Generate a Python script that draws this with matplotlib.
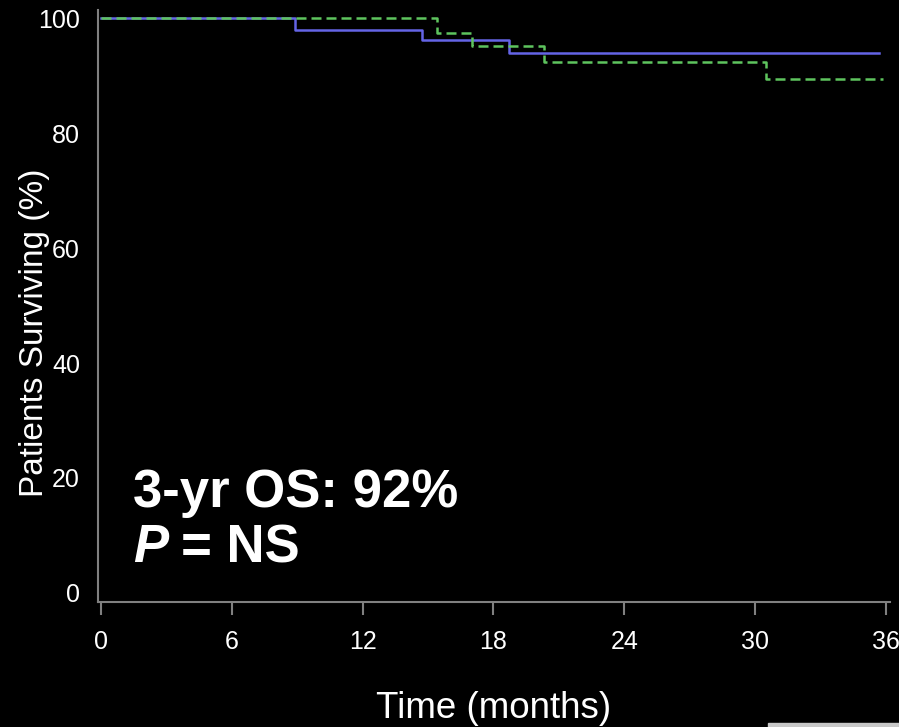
import matplotlib.pyplot as plt
from matplotlib.patches import Rectangle

plt.rcParams['font.family'] = ['Liberation Sans', 'DejaVu Sans']

# Kaplan-Meier step points (months, % surviving)
arm_a_time = [0, 8.9, 14.7, 18.7, 35.7]
arm_a_surv = [100, 97.9, 96.2, 94.0, 94.0]
arm_b_time = [0, 15.4, 17.0, 20.3, 30.5, 35.9]
arm_b_surv = [100, 97.5, 95.1, 92.3, 89.5, 89.5]

x_ticks = [0, 6, 12, 18, 24, 30, 36]
y_ticks = [0, 20, 40, 60, 80, 100]

fig = plt.figure(figsize=(8.99, 7.27), dpi=100, facecolor='black')
ax = fig.add_axes([0.109, 0.172, 0.881, 0.814], facecolor='black')

ax.step(arm_a_time, arm_a_surv, where='post', color='#6464e6', lw=1.8)
ax.step(arm_b_time, arm_b_surv, where='post', color='#5ec45e', lw=1.8,
        linestyle=(0, (4, 2)))

ax.set_xlim(-0.15, 36.2)
ax.set_ylim(-1.57, 101.4)
ax.set_xticks(x_ticks)
ax.set_yticks(y_ticks)
ax.tick_params(axis='x', colors='#808080', length=9, width=1.5, labelsize=18,
               labelcolor='white', pad=11)
ax.tick_params(axis='y', length=0, labelsize=18, labelcolor='white', pad=13)

for side in ['top', 'right']:
    ax.spines[side].set_visible(False)
for side in ['left', 'bottom']:
    ax.spines[side].set_color('#808080')
    ax.spines[side].set_linewidth(1.5)

ax.set_xlabel('Time (months)', color='white', fontsize=26.5)
ax.xaxis.set_label_coords(0.5, -0.150)
ax.set_ylabel('Patients Surviving (%)', color='white', fontsize=24)
ax.yaxis.set_label_coords(-0.061, 0.455)

ax.text(1.47, 17.4, '3-yr OS: 92%', color='white', fontsize=38,
        fontweight='bold', va='center', ha='left')
ax.text(1.47, 7.8, 'P', color='white', fontsize=38, fontweight='bold',
        fontstyle='italic', va='center', ha='left')
ax.text(3.67, 7.8, '= NS', color='white', fontsize=38, fontweight='bold',
        va='center', ha='left')

fig.patches.append(Rectangle((768 / 899, 0), 131 / 899, 4 / 727,
                             transform=fig.transFigure, color='#c8c8c8'))

fig.savefig('out.png', dpi=100, facecolor='black')
